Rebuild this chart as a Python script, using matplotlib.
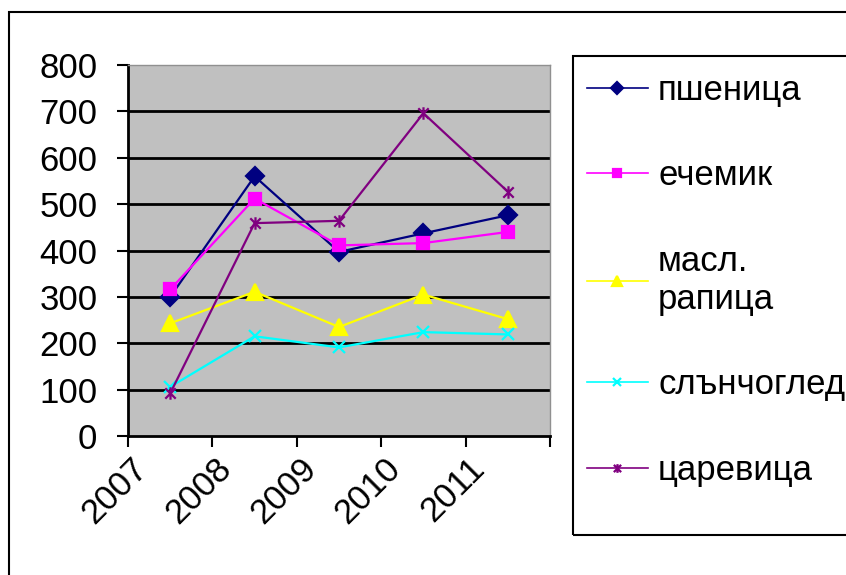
import matplotlib.pyplot as plt
import matplotlib.transforms as mtransforms
from matplotlib.path import Path
from matplotlib.patches import Rectangle

plt.rcParams['font.family'] = ['Liberation Sans', 'DejaVu Sans']

years = ["2007", "2008", "2009", "2010", "2011"]
pshenitsa = [300, 560, 397, 437, 476]
echemik = [316, 512, 411, 416, 440]
rapitsa = [243, 311, 235, 305, 252]
slanchogled = [106, 215, 191, 224, 219]
tsarevitsa = [92, 459, 464, 696, 527]

names = ["пшеница", "ечемик", "масл.\nрапица", "слънчоглед", "царевица"]

# Excel-like star marker: x plus a vertical bar
star = Path([(-1, -1), (1, 1), (-1, 1), (1, -1), (0, -1.2), (0, 1.2)],
            [Path.MOVETO, Path.LINETO, Path.MOVETO, Path.LINETO, Path.MOVETO, Path.LINETO])

series = [
    (pshenitsa, "#000080", "D", 9),
    (echemik, "#FF00FF", "s", 9),
    (rapitsa, "#FFFF00", "^", 11),
    (slanchogled, "#00FFFF", "x", 8),
    (tsarevitsa, "#800080", star, 9),
]

fig = plt.figure(figsize=(8.46, 5.75), dpi=100)
ax = fig.add_axes([128 / 846, 1 - 436 / 575, 422 / 846, 371 / 575])
ax.set_facecolor("#C0C0C0")

xs = [i + 0.5 for i in range(len(years))]
handles = []
for (vals, col, mk, ms), name in zip(series, names):
    ln, = ax.plot(xs, vals, color=col, lw=1.6, marker=mk, markersize=ms,
                  markeredgecolor=col, markerfacecolor=col, markeredgewidth=1.6,
                  zorder=3, clip_on=False)
    handles.append(ln)

ax.set_xlim(0, len(years))
ax.set_ylim(0, 800)
for v in range(100, 800, 100):
    ax.axhline(v, color="black", lw=2, zorder=1)

ax.set_yticks(range(0, 801, 100))
ax.tick_params(axis="y", direction="out", length=8, width=1.5, pad=14, labelsize=25)
ax.set_xticks(range(len(years) + 1))
ax.set_xticklabels([])
ax.tick_params(axis="x", direction="out", length=8, width=1.5)
ax.set_xticks(xs, minor=True)
ax.set_xticklabels(years, minor=True, rotation=45, ha="right", va="center",
                   rotation_mode="anchor", fontsize=25)
ax.tick_params(axis="x", which="minor", length=0, pad=20)
offset = mtransforms.ScaledTranslation(-0.28, 0, fig.dpi_scale_trans)
for lab in ax.get_xticklabels(minor=True):
    lab.set_transform(lab.get_transform() + offset)

for s in ["left", "bottom"]:
    ax.spines[s].set_linewidth(2)
    ax.spines[s].set_color("black")
for s in ["top", "right"]:
    ax.spines[s].set_linewidth(1)
    ax.spines[s].set_color("#909090")

# outer chart frame
fig.patches.append(Rectangle((9 / 846, -0.2), 1.2, 1 - 12 / 575 + 0.2,
                             transform=fig.transFigure, fill=False,
                             edgecolor="black", lw=1.5))
# legend frame (runs off the right edge like the original)
fig.patches.append(Rectangle((573 / 846, 1 - 535 / 575), 0.5, 479 / 575,
                             transform=fig.transFigure, fill=False,
                             edgecolor="black", lw=1.5))

leg = fig.legend(handles, names, loc="upper left",
                 bbox_to_anchor=(573 / 846, 1 - 60 / 575),
                 fontsize=25, frameon=False,
                 handlelength=1.75, handletextpad=0.3, borderpad=0.4,
                 labelspacing=1.51, borderaxespad=0, markerscale=0.7)
for lh in leg.get_lines():
    lh.set_linewidth(1.2)

fig.savefig("out.png", dpi=100)
